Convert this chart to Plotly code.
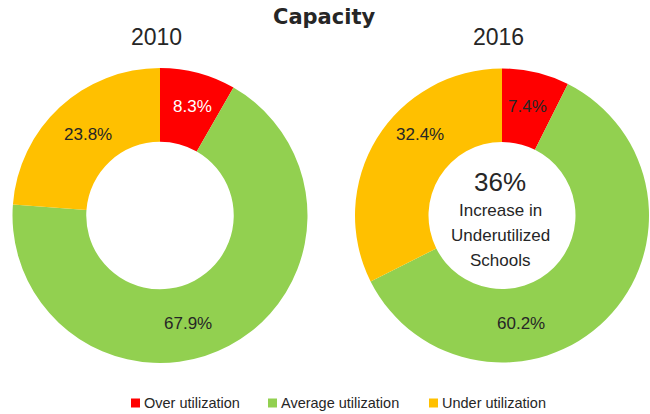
import plotly.graph_objects as go

categories = ["Over utilization", "Average utilization", "Under utilization"]
values_2010 = [8.3, 67.9, 23.8]
values_2016 = [7.4, 60.2, 32.4]
years = ["2010", "2016"]
title_text = "Capacity"
center_big = "36%"
center_lines = ["Increase in", "Underutilized", "Schools"]

# ---- styling / layout constants ----
colors = ["#FF0000", "#92D050", "#FFC000"]
FONT = "Liberation Sans, Arial, sans-serif"
TXT = "#262626"
W, H = 650, 414


def X(px):
    return px / W


def Y(py):
    return 1 - py / H


pie_boxes = [(12, 308, 68, 363), (355, 649, 68, 363)]
year_x = [156, 498]
# label anchor pixels per donut, in slice order
label_pos = [[(192, 106), (188, 323), (88, 134)],
             [(527, 106), (521, 323), (420, 134)]]
label_colors = [["white", TXT, TXT], [TXT, TXT, TXT]]
legend_sq_x = [131, 268, 429]

fig = go.Figure()
for i, vals in enumerate([values_2010, values_2016]):
    x0, x1, y0, y1 = pie_boxes[i]
    fig.add_trace(go.Pie(
        labels=categories, values=vals, hole=0.5, sort=False,
        direction="clockwise", rotation=0,
        marker=dict(colors=colors, line=dict(width=0)),
        textinfo="none",
        domain=dict(x=[X(x0), X(x1)], y=[Y(y1), Y(y0)]),
        showlegend=False, hoverinfo="label+value",
    ))
    for j, v in enumerate(vals):
        px, py = label_pos[i][j]
        fig.add_annotation(x=X(px), y=Y(py), xref="paper", yref="paper",
                           xanchor="center", yanchor="middle",
                           text=f"{v:.1f}%", showarrow=False,
                           font=dict(family=FONT, size=17, color=label_colors[i][j]))

fig.add_annotation(x=X(324), y=Y(17), xref="paper", yref="paper",
                   xanchor="center", yanchor="middle",
                   text=f"<b>{title_text}</b>", showarrow=False,
                   font=dict(family="DejaVu Sans, sans-serif", size=21, color=TXT))
for px, yr in zip(year_x, years):
    fig.add_annotation(x=X(px), y=Y(37), xref="paper", yref="paper",
                       xanchor="center", yanchor="middle",
                       text=yr, showarrow=False,
                       font=dict(family=FONT, size=23, color=TXT))

fig.add_annotation(x=X(500), y=Y(182), xref="paper", yref="paper",
                   xanchor="center", yanchor="middle",
                   text=center_big, showarrow=False,
                   font=dict(family=FONT, size=26, color=TXT))
for k, line in enumerate(center_lines):
    fig.add_annotation(x=X(500), y=Y(210 + 25 * k), xref="paper", yref="paper",
                       xanchor="center", yanchor="middle",
                       text=line, showarrow=False,
                       font=dict(family=FONT, size=17, color=TXT))

# legend
for sx, cat, col in zip(legend_sq_x, categories, colors):
    fig.add_shape(type="rect", xref="paper", yref="paper",
                  x0=X(sx), x1=X(sx + 9), y0=Y(407.5), y1=Y(398.5),
                  fillcolor=col, line=dict(width=0))
    fig.add_annotation(x=X(sx + 11), y=Y(403), xref="paper", yref="paper",
                       xanchor="left", yanchor="middle",
                       text=cat, showarrow=False,
                       font=dict(family=FONT, size=14.5, color=TXT))

fig.update_layout(
    width=W, height=H, margin=dict(l=0, r=0, t=0, b=0),
    paper_bgcolor="white", plot_bgcolor="white",
    showlegend=False,
    font=dict(family=FONT, color=TXT),
)
fig.write_html("out.html", config={"displayModeBar": False},
               post_script="document.body.style.margin='0';document.body.style.overflow='hidden';")
